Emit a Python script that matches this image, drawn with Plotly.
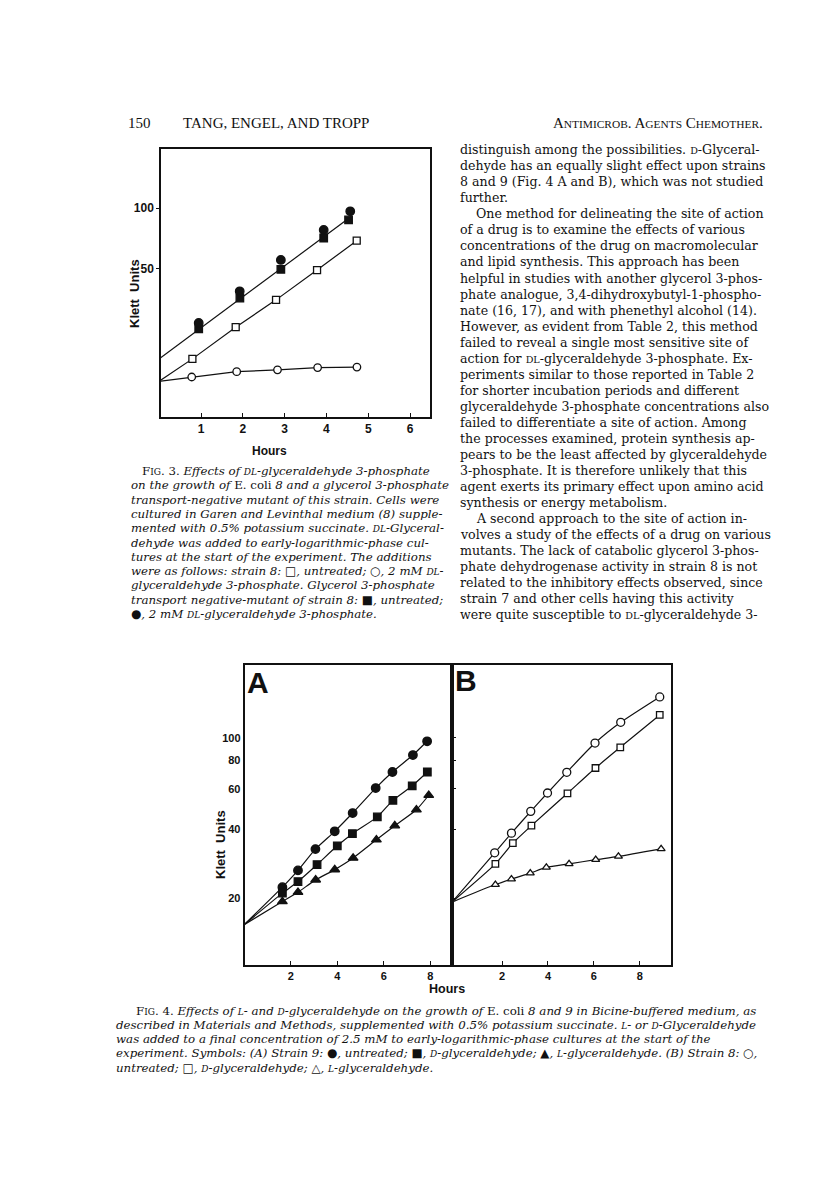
import math
import plotly.graph_objects as go

W, H = 816, 1189
def px(x): return x / W
def py(y): return 1 - y / H

# ---------------- Fig. 3 data (hours, Klett units) ----------------
f3_closed_circle_h = [0.945, 1.926, 2.91, 3.935, 4.57]
f3_closed_circle = [27.1, 38.8, 55.4, 77.9, 96.3]
f3_closed_square_h = [0.945, 1.93, 2.91, 3.935, 4.53]
f3_closed_square = [25.3, 35.9, 49.8, 71.1, 87.3]
f3_open_square_h = [0.794, 1.83, 2.795, 3.776, 4.725]
f3_open_square = [18.0, 25.8, 35.2, 49.4, 69.0]
f3_open_circle_h = [0.778, 1.854, 2.83, 3.79, 4.73]
f3_open_circle = [14.65, 15.56, 15.9, 16.3, 16.4]
f3_mutant_line_h = [0.0, 4.6]
f3_mutant_line = [18.0, 91.0]
f3_strain8_start_h = 0.0
f3_strain8_start = 13.95

# ---------------- Fig. 4A data ----------------
a_circle_h = [1.64, 2.31, 3.06, 3.89, 4.66, 5.65, 6.37, 7.25, 7.86]
a_circle = [22.3, 26.4, 32.7, 39.1, 47.0, 60.4, 71.0, 84.2, 96.7]
a_square_h = [1.64, 2.31, 3.13, 4.0, 4.65, 5.72, 6.39, 7.22, 7.87]
a_square = [21.0, 23.6, 28.0, 33.8, 38.2, 45.2, 53.4, 61.8, 71.0]
a_triangle_h = [1.64, 2.31, 3.07, 3.89, 4.68, 5.68, 6.47, 7.40, 7.93]
a_triangle = [19.3, 21.2, 24.0, 26.6, 29.9, 35.9, 41.4, 48.6, 56.2]
a_start_h = 0.0
a_start = 15.3

# ---------------- Fig. 4B data ----------------
b_circle_h = [1.68, 2.41, 3.25, 3.98, 4.82, 6.05, 7.17, 8.87]
b_circle = [31.5, 38.4, 47.8, 57.5, 70.8, 95.0, 117.0, 151.0]
b_square_h = [1.71, 2.47, 3.28, 4.85, 6.07, 7.15, 8.87]
b_square = [28.2, 34.7, 41.4, 57.3, 73.9, 91.0, 126.0]
b_triangle_h = [1.71, 2.41, 3.23, 3.93, 4.92, 6.08, 7.07, 8.93]
b_triangle = [22.9, 24.2, 25.7, 27.2, 28.2, 29.4, 30.4, 32.8]
b_start_h = -0.18
b_start = 19.2

f3_xticks = [1, 2, 3, 4, 5, 6]
f3_yticks = [50, 100]
f3_ylabels = ["50", "100"]
f4_xticks = [2, 4, 6, 8]
f4_yticks = [20, 40, 60, 80, 100]
f4_ylabels = ["20", "40", "60", "80", "100"]

fig = go.Figure()
BLK = "#111"

def line(xa, ya, xs, ys, shape="linear"):
    fig.add_trace(go.Scatter(x=xs, y=ys, mode="lines", xaxis=xa, yaxis=ya,
                             line=dict(color=BLK, width=1.2, shape=shape, smoothing=0.6),
                             hoverinfo="skip", showlegend=False))

def marks(xa, ya, xs, ys, sym, size, filled):
    fig.add_trace(go.Scatter(x=xs, y=ys, mode="markers", xaxis=xa, yaxis=ya,
                             marker=dict(symbol=sym, size=size,
                                         color=BLK if filled else "white",
                                         line=dict(color=BLK, width=1.3)),
                             showlegend=False, cliponaxis=False))

# Fig 3
line("x", "y", f3_mutant_line_h, f3_mutant_line)
line("x", "y", [f3_strain8_start_h] + f3_open_square_h, [f3_strain8_start] + f3_open_square)
line("x", "y", [f3_strain8_start_h] + f3_open_circle_h, [f3_strain8_start] + f3_open_circle)
marks("x", "y", f3_closed_square_h, f3_closed_square, "square", 7.5, True)
marks("x", "y", f3_closed_circle_h, f3_closed_circle, "circle", 8.5, True)
marks("x", "y", f3_open_square_h, f3_open_square, "square", 7, False)
marks("x", "y", f3_open_circle_h, f3_open_circle, "circle", 7.5, False)

# Fig 4A
for hs, vs, sym, sz in [(a_circle_h, a_circle, "circle", 8.5),
                        (a_square_h, a_square, "square", 7.5),
                        (a_triangle_h, a_triangle, "triangle-up", 8.5)]:
    line("x2", "y2", [a_start_h] + hs, [a_start] + vs, "spline")
    marks("x2", "y2", hs, vs, sym, sz, True)

# Fig 4B
for hs, vs, sym, sz in [(b_circle_h, b_circle, "circle", 8),
                        (b_square_h, b_square, "square", 6.5),
                        (b_triangle_h, b_triangle, "triangle-up", 7)]:
    line("x3", "y3", [b_start_h] + hs, [b_start] + vs, "spline")
    marks("x3", "y3", hs, vs, sym, sz, False)

tickfont3 = dict(family="Liberation Sans", size=12, color=BLK, weight="bold")
tickfont4 = dict(family="Liberation Sans", size=11, color=BLK, weight="bold")

ax_common = dict(showline=True, linecolor=BLK, mirror=True, showgrid=False,
                 zeroline=False, fixedrange=True)

fig.update_layout(
    width=W, height=H, margin=dict(l=0, r=0, t=0, b=0),
    paper_bgcolor="white", plot_bgcolor="white", showlegend=False,
    xaxis=dict(ax_common, domain=[px(153), px(422)], range=[0.043, 6.478],
               tickvals=f3_xticks, ticks="inside", ticklen=4, tickcolor=BLK,
               tickfont=tickfont3, linewidth=1.5, anchor="y"),
    yaxis=dict(ax_common, domain=[py(409), py(141)], type="log",
               range=[0.9684, 2.2912], tickvals=f3_yticks, ticktext=f3_ylabels,
               ticks="outside", ticklen=3, tickcolor=BLK, tickfont=tickfont3,
               linewidth=1.5, anchor="x"),
    xaxis2=dict(ax_common, domain=[px(236.7), px(444)], range=[0.02, 8.93],
                tickvals=f4_xticks, ticks="inside", ticklen=4, tickcolor=BLK,
                tickfont=tickfont4, linewidth=2, anchor="y2"),
    yaxis2=dict(ax_common, domain=[py(956.7), py(657)], type="log",
                range=[1.0098, 2.3185], tickvals=f4_yticks, ticktext=f4_ylabels,
                ticks="", tickfont=tickfont4, linewidth=2, anchor="x2"),
    xaxis3=dict(ax_common, domain=[px(444), px(663)], range=[-0.18, 9.36],
                tickvals=f4_xticks, ticks="inside", ticklen=4, tickcolor=BLK,
                tickfont=tickfont4, linewidth=2, anchor="y3"),
    yaxis3=dict(ax_common, domain=[py(956.7), py(657)], type="log",
                range=[1.0098, 2.3185], tickvals=f4_yticks, showticklabels=False,
                ticks="inside", ticklen=4, tickcolor=BLK, linewidth=2, anchor="x3"),
)

ann = []
SERIF = "DejaVu Serif"
def text(x, y, s, size=13, family=SERIF, xanchor="left", angle=0, weight="normal"):
    ann.append(dict(x=px(x), y=py(y), xref="paper", yref="paper", text=s,
                    showarrow=False, xanchor=xanchor, yanchor="middle", textangle=angle,
                    font=dict(family=family, size=size, color=BLK, weight=weight)))

def sc(s, size):
    return f"<span style='font-size:{size*0.76:.1f}px'>{s}</span>"

# Header
hs = 15
text(118, 115, "150", hs, "Liberation Serif")
text(173, 115, "TANG, ENGEL, AND TROPP", hs, "Liberation Serif")
text(757, 115, "A" + sc("NTIMICROB", hs) + ". A" + sc("GENTS", hs) + " C" + sc("HEMOTHER", hs) + ".",
     hs, "Liberation Serif", xanchor="right")

# Right column body text
B = 12.6
D = sc("D", B)
DL = sc("DL", B)
body = [
    (0, f"distinguish among the possibilities. {D}-Glyceral-"),
    (0, "dehyde has an equally slight effect upon strains"),
    (0, "8 and 9 (Fig. 4 A and B), which was not studied"),
    (0, "further."),
    (1, "One method for delineating the site of action"),
    (0, "of a drug is to examine the effects of various"),
    (0, "concentrations of the drug on macromolecular"),
    (0, "and lipid synthesis. This approach has been"),
    (0, "helpful in studies with another glycerol 3-phos-"),
    (0, "phate analogue, 3,4-dihydroxybutyl-1-phospho-"),
    (0, "nate (16, 17), and with phenethyl alcohol (14)."),
    (0, "However, as evident from Table 2, this method"),
    (0, "failed to reveal a single most sensitive site of"),
    (0, f"action for {DL}-glyceraldehyde 3-phosphate. Ex-"),
    (0, "periments similar to those reported in Table 2"),
    (0, "for shorter incubation periods and different"),
    (0, "glyceraldehyde 3-phosphate concentrations also"),
    (0, "failed to differentiate a site of action. Among"),
    (0, "the processes examined, protein synthesis ap-"),
    (0, "pears to be the least affected by glyceraldehyde"),
    (0, "3-phosphate. It is therefore unlikely that this"),
    (0, "agent exerts its primary effect upon amino acid"),
    (0, "synthesis or energy metabolism."),
    (1, "A second approach to the site of action in-"),
    (0, "volves a study of the effects of a drug on various"),
    (0, "mutants. The lack of catabolic glycerol 3-phos-"),
    (0, "phate dehydrogenase activity in strain 8 is not"),
    (0, "related to the inhibitory effects observed, since"),
    (0, "strain 7 and other cells having this activity"),
    (0, f"were quite susceptible to {DL}-glyceraldehyde 3-"),
]
for i, (ind, s) in enumerate(body):
    text(450 + 16 * ind, 141.7 + 16.04 * i, s, B)

# Fig 3 caption
C = 11.8
cD = sc("D", C); cDL = sc("DL", C); cL = sc("L", C)
cap3 = [
    (1, f"F{sc('IG', C)}. 3. <i>Effects of {cDL}-glyceraldehyde 3-phosphate</i>"),
    (0, "<i>on the growth of</i> E. coli <i>8 and a glycerol 3-phosphate</i>"),
    (0, "<i>transport-negative mutant of this strain. Cells were</i>"),
    (0, "<i>cultured in Garen and Levinthal medium (8) supple-</i>"),
    (0, f"<i>mented with 0.5% potassium succinate. {cDL}-Glyceral-</i>"),
    (0, "<i>dehyde was added to early-logarithmic-phase cul-</i>"),
    (0, "<i>tures at the start of the experiment. The additions</i>"),
    (0, f"<i>were as follows: strain 8: \u25a1, untreated; \u25cb, 2 mM {cDL}-</i>"),
    (0, "<i>glyceraldehyde 3-phosphate. Glycerol 3-phosphate</i>"),
    (0, "<i>transport negative-mutant of strain 8: \u25a0, untreated;</i>"),
    (0, f"<i>\u25cf, 2 mM {cDL}-glyceraldehyde 3-phosphate.</i>"),
]
for i, (ind, s) in enumerate(cap3):
    text(121 + 11 * ind, 463 + 14.3 * i, s, C)

cap4 = [
    (1, f"F{sc('IG', C)}. 4. <i>Effects of {cL}- and {cD}-glyceraldehyde on the growth of</i> E. coli <i>8 and 9 in Bicine-buffered medium, as</i>"),
    (0, f"<i>described in Materials and Methods, supplemented with 0.5% potassium succinate. {cL}- or {cD}-Glyceraldehyde</i>"),
    (0, "<i>was added to a final concentration of 2.5 mM to early-logarithmic-phase cultures at the start of the</i>"),
    (0, f"<i>experiment. Symbols: (A) Strain 9: \u25cf, untreated; \u25a0, {cD}-glyceraldehyde; \u25b2, {cL}-glyceraldehyde. (B) Strain 8: \u25cb,</i>"),
    (0, f"<i>untreated; \u25a1, {cD}-glyceraldehyde; \u25b3, {cL}-glyceraldehyde.</i>"),
]
for i, (ind, s) in enumerate(cap4):
    text(106 + 20 * ind, 1002.7 + 14.2 * i, s, C)

# Axis titles and panel letters
SANS = "Liberation Sans"
text(261, 443, "Hours", 12, SANS, "center", weight="bold")
text(126, 286, "Klett  Units", 13, SANS, "center", angle=-90, weight="bold")
text(439, 981, "Hours", 12.5, SANS, "center", weight="bold")
text(212, 837, "Klett  Units", 13, SANS, "center", angle=-90, weight="bold")
text(250, 674, "A", 30, SANS, "center", weight="bold")
text(458, 672, "B", 30, SANS, "center", weight="bold")

fig.update_layout(annotations=ann)
fig.write_html("out.html")
